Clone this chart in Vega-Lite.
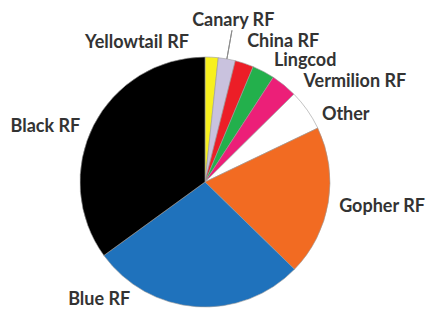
{
  "$schema": "https://vega.github.io/schema/vega-lite/v6.json",
  "width": 410,
  "height": 254,
  "autosize": {"type": "none"},
  "padding": {"left": 0, "top": 55, "right": 18, "bottom": 0},
  "background": "white",
  "config": {"view": {"stroke": null}, "text": {"font": "Lato", "fontWeight": "bold", "fontSize": 18, "fill": "#333333", "align": "center", "baseline": "middle"}},
  "data": {
    "values": [
      {"species": "Yellowtail RF", "value": 1.7, "order": 1},
      {"species": "Canary RF", "value": 2.2, "order": 2},
      {"species": "China RF", "value": 2.4, "order": 3},
      {"species": "Lingcod", "value": 2.9, "order": 4},
      {"species": "Vermilion RF", "value": 3.4, "order": 5},
      {"species": "Other", "value": 5.3, "order": 6},
      {"species": "Gopher RF", "value": 19.4, "order": 7},
      {"species": "Blue RF", "value": 27.7, "order": 8},
      {"species": "Black RF", "value": 35.0, "order": 9}
    ]
  },
  "transform": [
    {"stack": "value", "groupby": [], "sort": [{"field": "order", "order": "ascending"}], "as": ["v0", "v1"]},
    {"calculate": "(datum.v0 + datum.v1) / 2", "as": "mid"}
  ],
  "layer": [
    {
      "mark": {"type": "arc", "outerRadius": 125, "stroke": "#9a9a9a", "strokeWidth": 0.6},
      "encoding": {
        "theta": {"field": "v0", "type": "quantitative", "scale": {"domain": [0, 100]}},
        "theta2": {"field": "v1"},
        "color": {
          "field": "species",
          "type": "nominal",
          "legend": null,
          "scale": {
            "domain": ["Yellowtail RF", "Canary RF", "China RF", "Lingcod", "Vermilion RF", "Other", "Gopher RF", "Blue RF", "Black RF"],
            "range": ["#f7f01e", "#c9c2de", "#ec1e27", "#23b04c", "#ec1f78", "#ffffff", "#f26b22", "#1f72bc", "#000000"]
          }
        }
      }
    },
    {
      "transform": [{"filter": "datum.species == 'Canary RF'"}],
      "mark": {"type": "arc", "innerRadius": 125, "outerRadius": 154, "stroke": "#8c8c8c", "strokeWidth": 1, "fill": null},
      "encoding": {
        "theta": {"field": "mid", "type": "quantitative", "scale": {"domain": [0, 100]}},
        "theta2": {"field": "mid"}
      }
    },
    {"transform": [{"filter": "datum.species == 'Yellowtail RF'"}], "mark": {"type": "text", "radius": 150, "dx": -76, "dy": 11}, "encoding": {"theta": {"field": "mid", "type": "quantitative", "scale": {"domain": [0, 100]}}, "text": {"field": "species"}}},
    {"transform": [{"filter": "datum.species == 'Canary RF'"}], "mark": {"type": "text", "radius": 150, "dx": 2, "dy": -13}, "encoding": {"theta": {"field": "mid", "type": "quantitative", "scale": {"domain": [0, 100]}}, "text": {"field": "species"}}},
    {"transform": [{"filter": "datum.species == 'China RF'"}], "mark": {"type": "text", "radius": 150, "dx": 31, "dy": 2}, "encoding": {"theta": {"field": "mid", "type": "quantitative", "scale": {"domain": [0, 100]}}, "text": {"field": "species"}}},
    {"transform": [{"filter": "datum.species == 'Lingcod'"}], "mark": {"type": "text", "radius": 150, "dx": 30, "dy": 12}, "encoding": {"theta": {"field": "mid", "type": "quantitative", "scale": {"domain": [0, 100]}}, "text": {"field": "species"}}},
    {"transform": [{"filter": "datum.species == 'Vermilion RF'"}], "mark": {"type": "text", "radius": 150, "dx": 55, "dy": 16}, "encoding": {"theta": {"field": "mid", "type": "quantitative", "scale": {"domain": [0, 100]}}, "text": {"field": "species"}}},
    {"transform": [{"filter": "datum.species == 'Other'"}], "mark": {"type": "text", "radius": 150, "dx": 18, "dy": 19}, "encoding": {"theta": {"field": "mid", "type": "quantitative", "scale": {"domain": [0, 100]}}, "text": {"field": "species"}}},
    {"transform": [{"filter": "datum.species == 'Gopher RF'"}], "mark": {"type": "text", "radius": 150, "dx": 29, "dy": 1}, "encoding": {"theta": {"field": "mid", "type": "quantitative", "scale": {"domain": [0, 100]}}, "text": {"field": "species"}}},
    {"transform": [{"filter": "datum.species == 'Blue RF'"}], "mark": {"type": "text", "radius": 150, "dx": -95, "dy": -32}, "encoding": {"theta": {"field": "mid", "type": "quantitative", "scale": {"domain": [0, 100]}}, "text": {"field": "species"}}},
    {"transform": [{"filter": "datum.species == 'Black RF'"}], "mark": {"type": "text", "radius": 150, "dx": -26, "dy": 13}, "encoding": {"theta": {"field": "mid", "type": "quantitative", "scale": {"domain": [0, 100]}}, "text": {"field": "species"}}}
  ]
}
